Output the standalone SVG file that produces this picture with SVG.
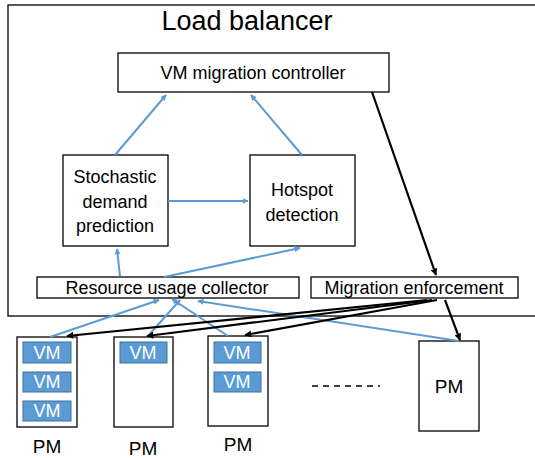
<svg xmlns="http://www.w3.org/2000/svg" width="535" height="458" viewBox="0 0 535 458">
<defs>
<marker id="ab" viewBox="0 0 10 10" refX="9" refY="5" markerWidth="6" markerHeight="6" orient="auto" markerUnits="userSpaceOnUse"><path d="M0,0 L10,5 L0,10 z" fill="#5B9BD5"/></marker>
<marker id="ak" viewBox="0 0 10 10" refX="9" refY="5" markerWidth="7" markerHeight="7" orient="auto" markerUnits="userSpaceOnUse"><path d="M0,0 L10,5 L0,10 z" fill="#000"/></marker>
</defs>
<style>
.box{fill:#fff;stroke:#000;stroke-width:1.3}
.pm{fill:#fff;stroke:#000;stroke-width:1.3}
.vm{fill:#5B9BD5;stroke:#41719C;stroke-width:1}
text{font-family:"Liberation Sans",Arial,sans-serif;font-size:18px;fill:#000;text-anchor:middle}
.vt{fill:#fff;font-size:18px}
.bl{stroke:#5B9BD5;stroke-width:2;fill:none;marker-end:url(#ab)}
.bk{stroke:#000;stroke-width:2.2;fill:none;marker-end:url(#ak)}
</style>
<g id="load-balancer">
<rect x="8" y="5" width="540" height="311" fill="#fff" stroke="#000" stroke-width="1.3"/>
<text x="247" y="30" style="font-size:27px">Load balancer</text>
</g>
<g id="vm-migration-controller">
<rect class="box" x="118" y="53" width="271" height="39"/>
<text x="253" y="79">VM migration controller</text>
</g>
<g id="stochastic-demand-prediction">
<rect class="box" x="63" y="155" width="105" height="91"/>
<text x="115" y="183">Stochastic</text>
<text x="115" y="208">demand</text>
<text x="115" y="232">prediction</text>
</g>
<g id="hotspot-detection">
<rect class="box" x="250" y="155" width="105" height="91"/>
<text x="302" y="196">Hotspot</text>
<text x="302" y="221">detection</text>
</g>
<g id="resource-usage-collector">
<rect class="box" x="37" y="277" width="262" height="21"/>
<text x="167" y="294">Resource usage collector</text>
</g>
<g id="migration-enforcement">
<rect class="box" x="311" y="277" width="207" height="21"/>
<text x="414" y="294">Migration enforcement</text>
</g>
<g id="pm1">
<rect class="pm" x="17" y="337" width="60" height="90"/>
<rect class="vm" x="23" y="342" width="48" height="21"/><text class="vt" x="47" y="359">VM</text>
<rect class="vm" x="23" y="372" width="48" height="20"/><text class="vt" x="47" y="388">VM</text>
<rect class="vm" x="23" y="401" width="48" height="20"/><text class="vt" x="47" y="417">VM</text>
<text x="47" y="453" style="font-size:19px">PM</text>
</g>
<g id="pm2">
<rect class="pm" x="114" y="337" width="59" height="90"/>
<rect class="vm" x="120" y="342" width="47" height="21"/><text class="vt" x="143" y="359">VM</text>
<text x="143" y="455" style="font-size:19px">PM</text>
</g>
<g id="pm3">
<rect class="pm" x="208" y="336" width="60" height="90"/>
<rect class="vm" x="214" y="342" width="47" height="21"/><text class="vt" x="237" y="359">VM</text>
<rect class="vm" x="214" y="372" width="47" height="20"/><text class="vt" x="237" y="388">VM</text>
<text x="238" y="451" style="font-size:19px">PM</text>
</g>
<g id="dots">
<line x1="312" y1="386" x2="380" y2="386" stroke="#000" stroke-width="1.3" stroke-dasharray="6,5"/>
</g>
<g id="pm4">
<rect class="pm" x="419" y="341" width="60" height="90"/>
<text x="449" y="393" style="font-size:19px">PM</text>
</g>
<g id="connectors">
<line class="bl" x1="115" y1="155" x2="166" y2="95"/>
<line class="bl" x1="302" y1="155" x2="251" y2="95"/>
<line class="bl" x1="168" y1="201" x2="248" y2="201"/>
<line class="bl" x1="120" y1="276" x2="117" y2="249"/>
<line class="bl" x1="164" y1="277" x2="300" y2="248"/>
<line class="bl" x1="50" y1="337" x2="159" y2="300"/>
<line class="bl" x1="148" y1="336" x2="180" y2="300"/>
<line class="bl" x1="228" y1="336" x2="172" y2="299"/>
<line class="bl" x1="459" y1="341" x2="198" y2="301"/>
<line class="bk" x1="372" y1="92" x2="436" y2="275"/>
<line class="bk" x1="427" y1="300" x2="67" y2="336"/>
<line class="bk" x1="432" y1="300" x2="147" y2="336"/>
<line class="bk" x1="437" y1="300" x2="245" y2="335"/>
<line class="bk" x1="445" y1="300" x2="460" y2="340"/>
</g>
</svg>
